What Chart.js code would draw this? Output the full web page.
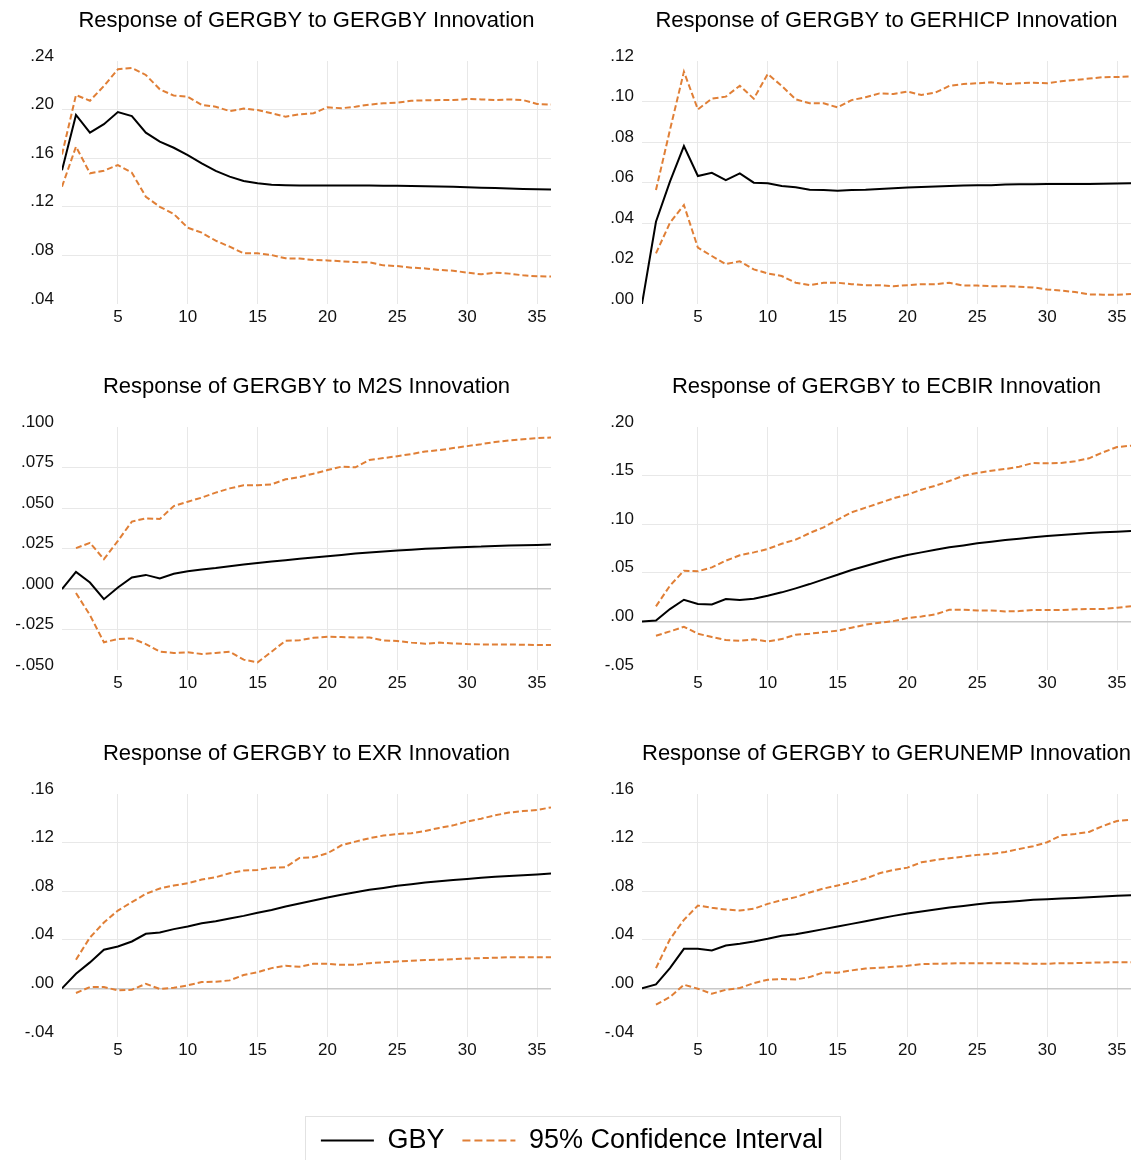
<!DOCTYPE html>
<html>
<head>
<meta charset="utf-8">
<script src="https://cdn.jsdelivr.net/npm/chart.js@4"></script>
<style>
  body { margin: 0; background: #fff; width: 1143px; height: 1160px; position: relative; overflow: hidden; }
  .panel { position: absolute; }
  .legendbox { position: absolute; left: 305px; top: 1116px; width: 536px; height: 60px; border: 1px solid #e2e2e2; box-sizing: border-box; }
  #cl { position: absolute; left: 272px; top: 1109px; }
</style>
</head>
<body>
<div class="panel" style="left:0;top:0"><canvas id="c1" width="571" height="367"></canvas></div>
<div class="panel" style="left:571px;top:0"><canvas id="c2" width="572" height="367"></canvas></div>
<div class="panel" style="left:0;top:366px"><canvas id="c3" width="571" height="367"></canvas></div>
<div class="panel" style="left:571px;top:366px"><canvas id="c4" width="572" height="367"></canvas></div>
<div class="panel" style="left:0;top:733px"><canvas id="c5" width="571" height="367"></canvas></div>
<div class="panel" style="left:571px;top:733px"><canvas id="c6" width="572" height="367"></canvas></div>
<div class="legendbox"></div>
<canvas id="cl" width="600" height="110"></canvas>
<script>
const periods = Array.from({ length: 36 }, (_, i) => i + 1)
const xTicks = [5, 10, 15, 20, 25, 30, 35]

// GERGBY shock
const gby1 = [.150, .1956, .181, .188, .198, .1947, .181, .1736, .1686, .1626, .1558, .1495, .1448, .1413, .1393, .1382, .1378, .1376, .1375, .1375, .1375, .1375, .1375, .1374, .1374, .1372, .137, .1367, .1364, .1361, .1357, .1354, .135, .1347, .1345, .1343]
const up1 = [.163, .212, .2073, .2194, .2332, .2342, .2285, .2167, .2115, .2106, .2038, .2024, .1988, .2008, .1997, .197, .1942, .1961, .197, .2019, .2011, .2024, .2041, .2052, .2057, .2073, .2076, .2079, .2079, .2087, .2084, .2079, .2084, .2079, .2046, .2041]
const lo1 = [.1366, .1695, .1476, .1497, .1544, .1481, .1283, .12, .1141, .1028, .0987, .0921, .0872, .0817, .0817, .0803, .0776, .0774, .0762, .0759, .0751, .0745, .0743, .0718, .0712, .0699, .0693, .068, .0674, .0658, .0644, .0658, .065, .0636, .0628, .0626]
const yTicks1 = [.04, .08, .12, .16, .20, .24]

// GERHICP shock
const gby2 = [0, .0406, .0604, .078, .0632, .0648, .0612, .0645, .0599, .0596, .0583, .0576, .0564, .0563, .0559, .0563, .0564, .0568, .0571, .0575, .0578, .058, .0583, .0585, .0587, .0587, .059, .0591, .0591, .0592, .0592, .0593, .0593, .0594, .0595, .0596]
const up2 = [null, .0563, .0859, .1147, .0961, .1014, .1024, .1078, .1014, .1136, .1077, .1011, .0991, .0991, .0971, .1007, .1021, .104, .1037, .1049, .1032, .1044, .1077, .1086, .109, .1095, .1086, .109, .1093, .109, .11, .1106, .1113, .112, .1121, .1124]
const lo2 = [null, .025, .0401, .0489, .0278, .0237, .0197, .0211, .0171, .0151, .0138, .0105, .0093, .0105, .0105, .0098, .0093, .0093, .0088, .0093, .0098, .0098, .0105, .0091, .0091, .0088, .0088, .0085, .0082, .0072, .0066, .0059, .0047, .0046, .0046, .0049]
const yTicks2 = [0, .02, .04, .06, .08, .10, .12]

// M2S shock
const gby3 = [0, .0105, .004, -.0063, .0009, .0071, .0087, .0065, .0094, .011, .012, .0129, .0141, .0151, .0161, .017, .0178, .0186, .0194, .0202, .021, .0219, .0225, .0231, .0237, .0243, .0248, .0252, .0256, .026, .0262, .0266, .0268, .027, .0272, .0274]
const up3 = [null, .0252, .0285, .0184, .0297, .0416, .0436, .0432, .0512, .0539, .0564, .0595, .0621, .064, .064, .0646, .0677, .0691, .0712, .0734, .0755, .0751, .0796, .0808, .082, .0833, .0849, .0857, .087, .0882, .0894, .0908, .0917, .0925, .0931, .0935]
const lo3 = [null, -.0025, -.0161, -.0329, -.0309, -.0305, -.034, -.0387, -.0395, -.0391, -.0401, -.0395, -.0387, -.0436, -.0453, -.0387, -.0319, -.0317, -.0301, -.0295, -.0297, -.0299, -.0299, -.0317, -.0321, -.0331, -.0338, -.0331, -.0336, -.034, -.0342, -.0342, -.0342, -.0344, -.0346, -.0346]
const yTicks3 = [-.05, -.025, 0, .025, .05, .075, .10]

// ECBIR shock
const gby4 = [0, .001, .0127, .0223, .0179, .0175, .023, .022, .0234, .0264, .0299, .034, .0384, .0432, .048, .0529, .057, .0611, .0649, .0683, .071, .0738, .0762, .0782, .0803, .082, .0837, .0851, .0865, .0878, .0889, .0899, .0909, .0916, .0923, .093]
const up4 = [null, .0155, .0367, .0522, .0515, .0556, .0625, .068, .071, .0745, .0799, .0841, .0909, .0968, .1046, .1122, .117, .1218, .1266, .1304, .1355, .1396, .1444, .1499, .1527, .1551, .1568, .1592, .163, .1626, .163, .1647, .1678, .174, .1794, .1808]
const lo4 = [null, -.0147, -.0103, -.0055, -.0127, -.0161, -.0192, -.0199, -.0185, -.0206, -.0182, -.0137, -.0127, -.011, -.0096, -.0065, -.0034, -.0014, .0003, .0034, .0051, .0072, .012, .012, .0113, .0113, .0103, .0106, .0117, .0117, .0117, .0124, .0127, .0127, .0141, .0155]
const yTicks4 = [-.05, 0, .05, .10, .15, .20]

// EXR shock
const gby5 = [0, .012, .0214, .0318, .0345, .0386, .0449, .046, .0488, .0509, .0537, .0553, .0575, .0597, .0622, .0646, .0674, .0699, .0723, .0748, .077, .0792, .0811, .0827, .0844, .0857, .0871, .0882, .0893, .0901, .091, .0918, .0926, .0931, .0937, .0945]
const up5 = [null, .0236, .0419, .0542, .0641, .071, .0778, .0822, .0847, .0866, .0896, .0915, .0948, .097, .0975, .0994, .0997, .1074, .1079, .1112, .1178, .1208, .1236, .1258, .1271, .1277, .1296, .1321, .1342, .1373, .1397, .1425, .1447, .146, .1468, .149]
const lo5 = [null, -.0038, .0011, .0011, -.0016, -.0011, .0038, -.0005, .0005, .0025, .0052, .0055, .0066, .011, .0134, .0167, .0186, .0178, .0203, .0203, .0194, .0194, .0208, .0214, .0222, .0227, .0233, .0236, .0241, .0246, .0249, .0252, .0257, .0257, .0257, .0257]
const yTicks5 = [-.04, 0, .04, .08, .12, .16]

// GERUNEMP shock
const gby6 = [0, .0033, .0167, .0326, .0326, .0312, .0353, .0367, .0386, .0408, .0433, .0446, .0466, .0488, .0509, .0531, .0553, .0575, .0597, .0616, .0633, .0649, .0666, .0679, .0693, .0704, .0712, .072, .0729, .0734, .074, .0745, .0751, .0756, .0762, .0767]
const up6 = [null, .0167, .0405, .0564, .0682, .0663, .0649, .0641, .0655, .0696, .0726, .0751, .0789, .0822, .0847, .0874, .0904, .0948, .0975, .0994, .1038, .1057, .1071, .1085, .1099, .1107, .1123, .1148, .117, .1203, .126, .1271, .1288, .1337, .1378, .1389]
const lo6 = [null, -.0134, -.0071, .003, -.0003, -.0044, -.0011, .0003, .0044, .0071, .0077, .0074, .0093, .0132, .0129, .0148, .0164, .017, .0178, .0186, .02, .0203, .0205, .0208, .0208, .0208, .0208, .0205, .0203, .0203, .0208, .0208, .0211, .0214, .0216, .0216]
const yTicks6 = [-.04, 0, .04, .08, .12, .16]

const orange = '#e07f36'
const FONT = '"Liberation Sans", Arial, Helvetica, sans-serif'
Chart.defaults.font.family = FONT
Chart.defaults.color = '#111'

const toXY = arr => arr.map((v, i) => ({ x: periods[i], y: v }))
const fmt = (v, dec) => v.toFixed(dec).replace(/^(-?)0\./, '$1.')

function panel (id, title, gby, up, lo, yTicks, dec, left) {
  const lo0 = yTicks[0]
  const hi0 = yTicks[yTicks.length - 1]
  new Chart(document.getElementById(id), {
    type: 'line',
    data: {
      datasets: [
        { data: toXY(up), borderColor: orange, borderWidth: 2, borderDash: [6, 3], pointRadius: 0, tension: 0 },
        { data: toXY(lo), borderColor: orange, borderWidth: 2, borderDash: [6, 3], pointRadius: 0, tension: 0 },
        { data: toXY(gby), borderColor: '#000', borderWidth: 2, pointRadius: 0, tension: 0 }
      ]
    },
    options: {
      responsive: false,
      animation: false,
      events: [],
      layout: { padding: { left: 0, right: left ? 20 : 12, top: 0, bottom: 33 } },
      plugins: {
        legend: { display: false },
        tooltip: { enabled: false },
        title: {
          display: true,
          text: title,
          fullSize: false,
          color: '#000',
          font: { size: 22, weight: 'normal' },
          padding: { top: 8, bottom: 26.6 }
        }
      },
      scales: {
        x: {
          type: 'linear',
          min: 1,
          max: 36,
          afterBuildTicks: s => { s.ticks = xTicks.map(v => ({ value: v })) },
          afterFit: s => { s.height = 30 },
          border: { display: false },
          grid: { color: '#e8e8e8', drawTicks: false },
          ticks: { padding: 3, maxRotation: 0, color: '#111', font: { size: 17 } }
        },
        y: {
          min: lo0,
          max: hi0,
          afterBuildTicks: s => { s.ticks = yTicks.map(v => ({ value: v })) },
          afterFit: s => { s.width = left ? 62 : 71 },
          border: { display: false },
          grid: {
            drawTicks: false,
            color: c => {
              const v = c.tick.value
              if (v === lo0 || v === hi0) return 'rgba(0,0,0,0)'
              return Math.abs(v) < 1e-9 ? '#c8c8c8' : '#e8e8e8'
            },
            lineWidth: c => Math.abs(c.tick.value) < 1e-9 ? 1.5 : 1
          },
          ticks: { padding: 8, labelOffset: -5, color: '#111', font: { size: 17 }, callback: v => fmt(v, dec) }
        }
      }
    }
  })
}

panel('c1', 'Response of GERGBY to GERGBY Innovation', gby1, up1, lo1, yTicks1, 2, true)
panel('c2', 'Response of GERGBY to GERHICP Innovation', gby2, up2, lo2, yTicks2, 2, false)
panel('c3', 'Response of GERGBY to M2S Innovation', gby3, up3, lo3, yTicks3, 3, true)
panel('c4', 'Response of GERGBY to ECBIR Innovation', gby4, up4, lo4, yTicks4, 2, false)
panel('c5', 'Response of GERGBY to EXR Innovation', gby5, up5, lo5, yTicks5, 2, true)
panel('c6', 'Response of GERGBY to GERUNEMP Innovation', gby6, up6, lo6, yTicks6, 2, false)

// legend
const baseLabels = Chart.defaults.plugins.legend.labels.generateLabels
new Chart(document.getElementById('cl'), {
  type: 'line',
  data: {
    datasets: [
      { label: 'GBY', data: [], borderColor: '#000', borderWidth: 2 },
      { label: '95% Confidence Interval', data: [], borderColor: orange, borderWidth: 2, borderDash: [8, 4] }
    ]
  },
  options: {
    responsive: false,
    animation: false,
    events: [],
    scales: { x: { display: false }, y: { display: false } },
    plugins: {
      tooltip: { enabled: false },
      legend: {
        display: true,
        labels: {
          usePointStyle: true,
          pointStyle: 'line',
          pointStyleWidth: 53,
          padding: 18,
          color: '#000',
          font: { size: 27 },
          generateLabels: chart => baseLabels(chart).map((l, i) => ({
            ...l,
            lineWidth: 2,
            strokeStyle: chart.data.datasets[i].borderColor,
            lineDash: chart.data.datasets[i].borderDash || []
          }))
        }
      }
    }
  }
})
</script>
</body>
</html>
